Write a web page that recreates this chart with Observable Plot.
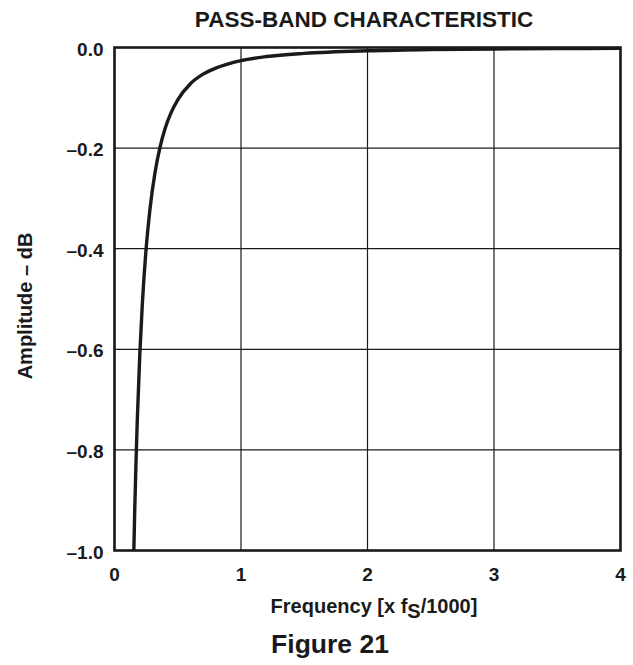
<!DOCTYPE html>
<html>
<head>
<meta charset="utf-8">
<script src="https://cdn.jsdelivr.net/npm/d3@7"></script>
<script src="https://cdn.jsdelivr.net/npm/@observablehq/plot@0.6"></script>
<style>
  html, body { margin: 0; padding: 0; background: #fff; }
  #chart { position: relative; width: 633px; height: 665px; }
  svg { font-family: "Liberation Sans", Arial, sans-serif; }
</style>
</head>
<body>
<div id="chart"></div>
<script>
// Data (frequency in x fS/1000, amplitude in dB)
const freq = [0.150, 0.153, 0.16, 0.17, 0.18, 0.20, 0.22, 0.25, 0.28, 0.32, 0.36, 0.40, 0.45, 0.50, 0.60, 0.70, 0.80, 1.0, 1.2, 1.5, 2.0, 2.5, 3.0, 3.5, 4.0];
const amp  = [-1.032, -1.000, -0.919, -0.824, -0.742, -0.610, -0.510, -0.400, -0.322, -0.249, -0.198, -0.161, -0.128, -0.104, -0.072, -0.053, -0.041, -0.026, -0.018, -0.0116, -0.0065, -0.0042, -0.0029, -0.0021, -0.0016];
const xTicks = [0, 1, 2, 3, 4];
const yTicks = [0, -0.2, -0.4, -0.6, -0.8, -1.0];
const titleText = "PASS-BAND CHARACTERISTIC";
const yLabel = "Amplitude – dB";
const figureText = "Figure 21";

const data = freq.map((f, i) => ({f, a: amp[i]}));
const fmtY = d => (d < 0 ? "–" : "") + Math.abs(d).toFixed(1);

const W = 633, H = 665;
const mL = 114, mR = 13, mT = 47, mB = 115;
const ink = "#1a1a1a";

const plot = Plot.plot({
  width: W, height: H,
  marginLeft: mL, marginRight: mR, marginTop: mT, marginBottom: mB,
  style: {fontFamily: '"Liberation Sans", Arial, sans-serif', fontSize: "19px", fontWeight: "bold", color: ink, background: "#fff"},
  x: {domain: [0, 4], ticks: xTicks},
  y: {domain: [-1, 0], ticks: yTicks},
  marks: [
    Plot.gridX(xTicks, {stroke: ink, strokeOpacity: 1, strokeWidth: 1.2}),
    Plot.gridY(yTicks, {stroke: ink, strokeOpacity: 1, strokeWidth: 1.2}),
    Plot.line(data, {x: "f", y: "a", stroke: ink, strokeWidth: 3.4, curve: "monotone-x", clip: true}),
    Plot.frame({stroke: ink, strokeWidth: 2.6}),
    Plot.axisX(xTicks, {tickSize: 0, tickPadding: 17, label: null, tickFormat: d => String(d), fontSize: 19, fontWeight: "bold", fill: ink}),
    Plot.axisY(yTicks, {tickSize: 0, tickPadding: 11, dy: 2, label: null, tickFormat: fmtY, fontSize: 19, fontWeight: "bold", fill: ink})
  ]
});

const svg = d3.select(plot);
// Title
svg.append("text")
  .attr("x", 364).attr("y", 27)
  .attr("text-anchor", "middle")
  .attr("font-size", 22.5).attr("font-weight", "bold").attr("fill", ink)
  .text(titleText);
// Y label
svg.append("text")
  .attr("transform", "translate(32,306) rotate(-90)")
  .attr("text-anchor", "middle")
  .attr("font-size", 20).attr("font-weight", "bold").attr("fill", ink)
  .text(yLabel);
// X label with subscript S
const xl = svg.append("text")
  .attr("x", 374).attr("y", 613)
  .attr("text-anchor", "middle")
  .attr("font-size", 20).attr("font-weight", "bold").attr("fill", ink);
xl.append("tspan").text("Frequency [x f");
xl.append("tspan").attr("dy", 5).text("S");
xl.append("tspan").attr("dy", -5).text("/1000]");
// Figure caption
svg.append("text")
  .attr("x", 330).attr("y", 653)
  .attr("text-anchor", "middle")
  .attr("font-size", 26.5).attr("font-weight", "bold").attr("fill", ink)
  .text(figureText);

document.getElementById("chart").appendChild(plot);
</script>
</body>
</html>
